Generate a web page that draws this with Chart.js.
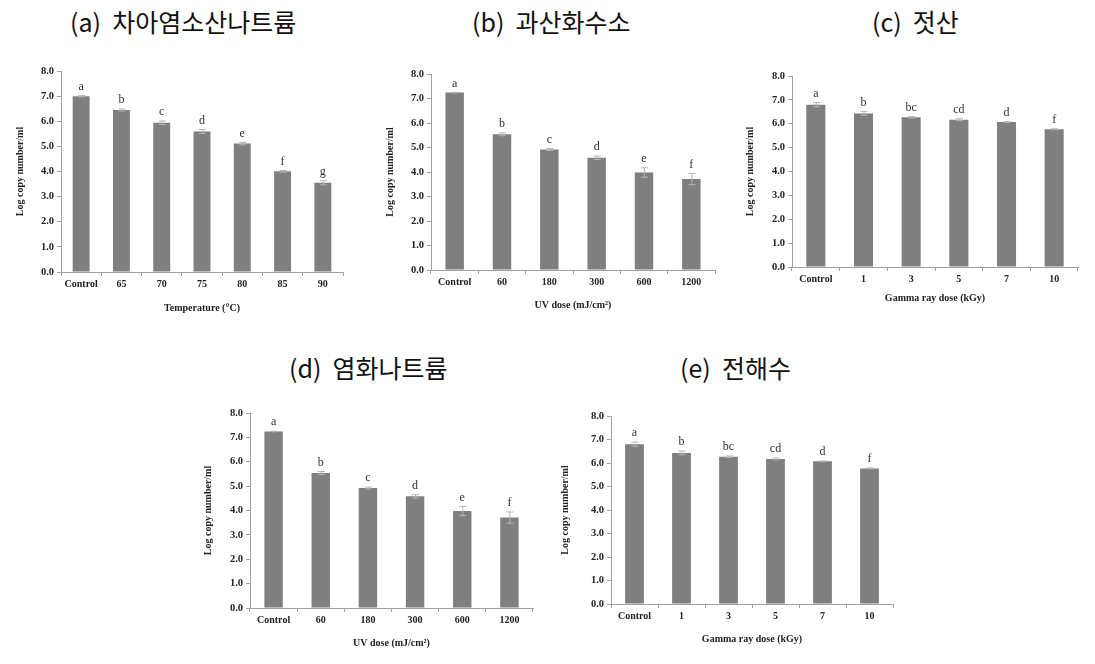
<!DOCTYPE html>
<html>
<head>
<meta charset="utf-8">
<script src="https://cdn.jsdelivr.net/npm/chart.js@4.4.1/dist/chart.umd.min.js"></script>
<style>
    body { margin: 0; background: #fff; width: 1095px; height: 664px; position: relative; overflow: hidden; }
    .panel-title { position: absolute; font-family: "Noto Sans CJK KR", "Noto Sans", sans-serif; font-size: 25px; color: #111; white-space: pre; line-height: 1; }
    canvas { position: absolute; }
</style>
</head>
<body>
<div class="panel-title" style="left:70px; top:9px;">(a)  차아염소산나트륨</div>
<div class="panel-title" style="left:472px; top:9px;">(b)  과산화수소</div>
<div class="panel-title" style="left:872px; top:9px;">(c)  젓산</div>
<div class="panel-title" style="left:289px; top:355px;">(d)  염화나트륨</div>
<div class="panel-title" style="left:680px; top:355px;">(e)  전해수</div>

<canvas id="chartA"></canvas>
<canvas id="chartB"></canvas>
<canvas id="chartC"></canvas>
<canvas id="chartD"></canvas>
<canvas id="chartE"></canvas>

<script>
// ----- DATA -----
const yTitle = 'Log copy number/ml';

// (a) temperature
const tempLabels = ['Control', '65', '70', '75', '80', '85', '90'];
const tempMeans = [7.00, 6.45, 5.94, 5.59, 5.11, 4.01, 3.55];
const tempErrors = [0.03, 0.04, 0.07, 0.08, 0.05, 0.03, 0.08];
const tempLetters = ['a', 'b', 'c', 'd', 'e', 'f', 'g'];

// (b), (d) UV dose
const uvLabels = ['Control', '60', '180', '300', '600', '1200'];
const uvMeans = [7.24, 5.54, 4.92, 4.58, 3.98, 3.71];
const uvErrors = [0.01, 0.06, 0.04, 0.07, 0.19, 0.23];
const uvLetters = ['a', 'b', 'c', 'd', 'e', 'f'];

// (c), (e) gamma ray dose
const gammaLabels = ['Control', '1', '3', '5', '7', '10'];
const gammaMeans = [6.80, 6.43, 6.27, 6.17, 6.07, 5.77];
const gammaErrors = [0.09, 0.08, 0.03, 0.04, 0.02, 0.02];
const gammaLetters = ['a', 'b', 'bc', 'cd', 'd', 'f'];

// ----- STYLE -----
const barColor = '#7f7f7f';
const axisColor = '#a0a0a0';
const textColor = '#222';
const serif = '"Liberation Serif", "DejaVu Serif", serif';

// error bars and significance letters, drawn through the y scale
const errorBarPlugin = {
    id: 'errorBars',
    afterDatasetsDraw(chart, args, opts) {
        const ctx = chart.ctx;
        const yScale = chart.scales.y;
        const meta = chart.getDatasetMeta(0);
        const values = chart.data.datasets[0].data;
        ctx.save();
        meta.data.forEach((bar, i) => {
            const top = yScale.getPixelForValue(values[i] + opts.errors[i]);
            const bottom = yScale.getPixelForValue(values[i] - opts.errors[i]);
            ctx.strokeStyle = '#b4b4b4';
            ctx.lineWidth = 1;
            ctx.beginPath();
            ctx.moveTo(bar.x + 0.5, top);
            ctx.lineTo(bar.x + 0.5, bottom);
            ctx.moveTo(bar.x - 3, top);
            ctx.lineTo(bar.x + 4, top);
            ctx.moveTo(bar.x - 3, bottom);
            ctx.lineTo(bar.x + 4, bottom);
            ctx.stroke();

            ctx.fillStyle = '#333';
            ctx.font = '12px ' + serif;
            ctx.textAlign = 'center';
            ctx.textBaseline = 'bottom';
            ctx.fillText(opts.letters[i], bar.x, top - 3);
        });
        ctx.restore();
    }
};

// box = canvas rect, area = plot area rect (page pixels)
function makeChart(id, box, area, labels, means, errors, letters, xTitle, barPct, yTitlePad, xTitlePad) {
    const canvas = document.getElementById(id);
    canvas.width = box.w;
    canvas.height = box.h;
    canvas.style.left = box.x + 'px';
    canvas.style.top = box.y + 'px';

    const yWidth = area.x0 - box.x;
    const xHeight = box.y + box.h - area.y1;

    new Chart(canvas, {
        type: 'bar',
        data: {
            labels: labels,
            datasets: [{
                data: means,
                backgroundColor: barColor,
                borderWidth: 0,
                categoryPercentage: 1,
                barPercentage: barPct
            }]
        },
        options: {
            responsive: false,
            animation: false,
            devicePixelRatio: 1,
            layout: {
                padding: { left: 0, bottom: 0, top: area.y0 - box.y, right: box.x + box.w - area.x1 }
            },
            plugins: {
                legend: { display: false },
                tooltip: { enabled: false },
                errorBars: { errors: errors, letters: letters }
            },
            scales: {
                x: {
                    grid: { drawOnChartArea: false, tickLength: 4, color: axisColor, offset: true },
                    border: { color: axisColor },
                    ticks: { color: textColor, font: { family: serif, size: 10, weight: 'bold' }, padding: 2, maxRotation: 0 },
                    title: { display: true, text: xTitle, color: textColor, font: { family: serif, size: 10, weight: 'bold' }, padding: { top: 0, bottom: xTitlePad } },
                    afterFit: scale => { scale.height = xHeight; }
                },
                y: {
                    min: 0,
                    max: 8,
                    grid: { drawOnChartArea: false, tickLength: 4, color: axisColor },
                    border: { color: axisColor },
                    ticks: { stepSize: 1, color: textColor, font: { family: serif, size: 10.5, weight: 'bold' }, padding: 3, callback: v => v.toFixed(1) },
                    title: { display: true, text: yTitle, color: textColor, font: { family: serif, size: 10, weight: 'bold' }, padding: { top: yTitlePad, bottom: 0 } },
                    afterFit: scale => { scale.width = yWidth; }
                }
            }
        },
        plugins: [errorBarPlugin]
    });
}

makeChart('chartA', { x: 0, y: 50, w: 360, h: 275 }, { x0: 61, y0: 71, x1: 343, y1: 272 },
    tempLabels, tempMeans, tempErrors, tempLetters, 'Temperature (°C)', 0.42, 14, 11);

makeChart('chartB', { x: 370, y: 50, w: 360, h: 275 }, { x0: 431, y0: 74, x1: 715, y1: 270 },
    uvLabels, uvMeans, uvErrors, uvLetters, 'UV dose (mJ/cm²)', 0.39, 14, 14);

makeChart('chartC', { x: 730, y: 50, w: 365, h: 275 }, { x0: 792, y0: 76, x1: 1078, y1: 267 },
    gammaLabels, gammaMeans, gammaErrors, gammaLetters, 'Gamma ray dose (kGy)', 0.40, 14, 21);

makeChart('chartD', { x: 190, y: 390, w: 360, h: 270 }, { x0: 250, y0: 413, x1: 533, y1: 608 },
    uvLabels, uvMeans, uvErrors, uvLetters, 'UV dose (mJ/cm²)', 0.39, 12, 11);

makeChart('chartE', { x: 550, y: 390, w: 365, h: 270 }, { x0: 611, y0: 416, x1: 893, y1: 604 },
    gammaLabels, gammaMeans, gammaErrors, gammaLetters, 'Gamma ray dose (kGy)', 0.40, 9, 15);
</script>
</body>
</html>
